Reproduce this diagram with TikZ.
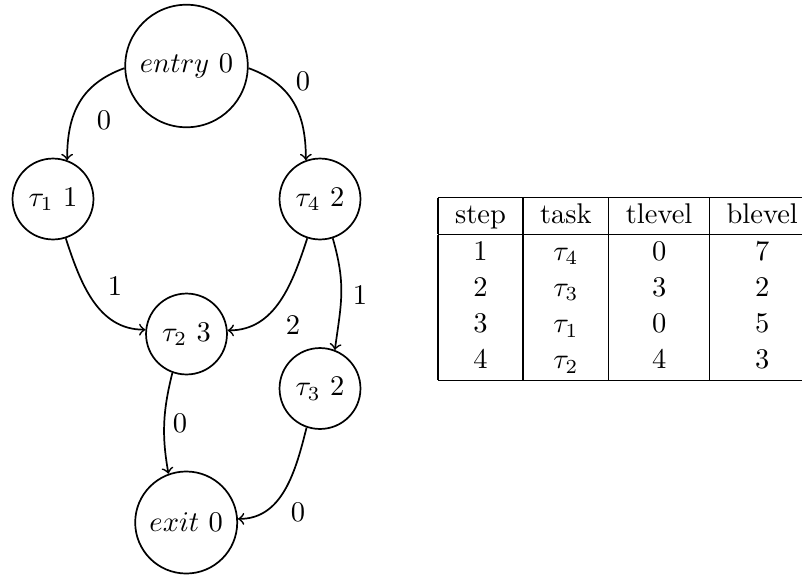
\documentclass[tikz,border=0pt]{standalone}
\begin{document}
\begin{tikzpicture}[x=0.35088pt,y=0.35088pt,
  task/.style={draw,semithick,circle,inner sep=0pt,minimum size=28.4pt},
  bignode/.style={draw,semithick,circle,inner sep=0pt},
  conn/.style={->,semithick},
  lbl/.style={inner sep=0pt}]
\clip (0,0) rectangle (802,-574);
\node[bignode,minimum size=43pt] (entry) at (186.5,-66) {$entry$ 0};
\node[task] (t1) at (53,-199) {$\tau_1$ 1};
\node[task] (t4) at (320,-199) {$\tau_4$ 2};
\node[task] (t2) at (186.5,-334) {$\tau_2$ 3};
\node[task] (t3) at (320,-388.5) {$\tau_3$ 2};
\node[bignode,minimum size=35.8pt] (exit) at (186.2,-522.5) {$exit$ 0};

\draw[conn] (entry.182) to[out=200,in=90,looseness=1.1] (t1.70);
\draw[conn] (entry.-2) to[out=-20,in=90,looseness=1.1] (t4.110);
\draw[conn] (t1.-72) to[out=-72,in=180] (t2.174);
\draw[conn] (t4.252) to[out=252,in=0] (t2.5);
\draw[conn] (t4.-72) to[out=-74,in=82,looseness=1.1] (t3.69);
\draw[conn] (t2.250) to[out=256,in=100] (exit.110);
\draw[conn] (t3.251) to[out=256,in=0] (exit.4);

\node[lbl] (l1) at (104,-120) {0};
\node[lbl] (l2) at (303,-81) {0};
\node[lbl] (l3) at (115,-286) {1};
\node[lbl] (l4) at (293,-325) {2};
\node[lbl] (l5) at (360,-295) {1};
\node[lbl] (l6) at (180,-423) {0};
\node[lbl] (l7) at (298,-512) {0};

\node[anchor=north west,inner sep=0pt] (tab) at (437.4,-196.4) {\renewcommand{\arraystretch}{1.055}%
\begin{tabular}{|c|c|c|c|}
\hline
step & task & tlevel & blevel\\
\hline
1 & $\tau_4$ & 0 & 7\\
2 & $\tau_3$ & 3 & 2\\
3 & $\tau_1$ & 0 & 5\\
4 & $\tau_2$ & 4 & 3\\
\hline
\end{tabular}};
\end{tikzpicture}
\end{document}
